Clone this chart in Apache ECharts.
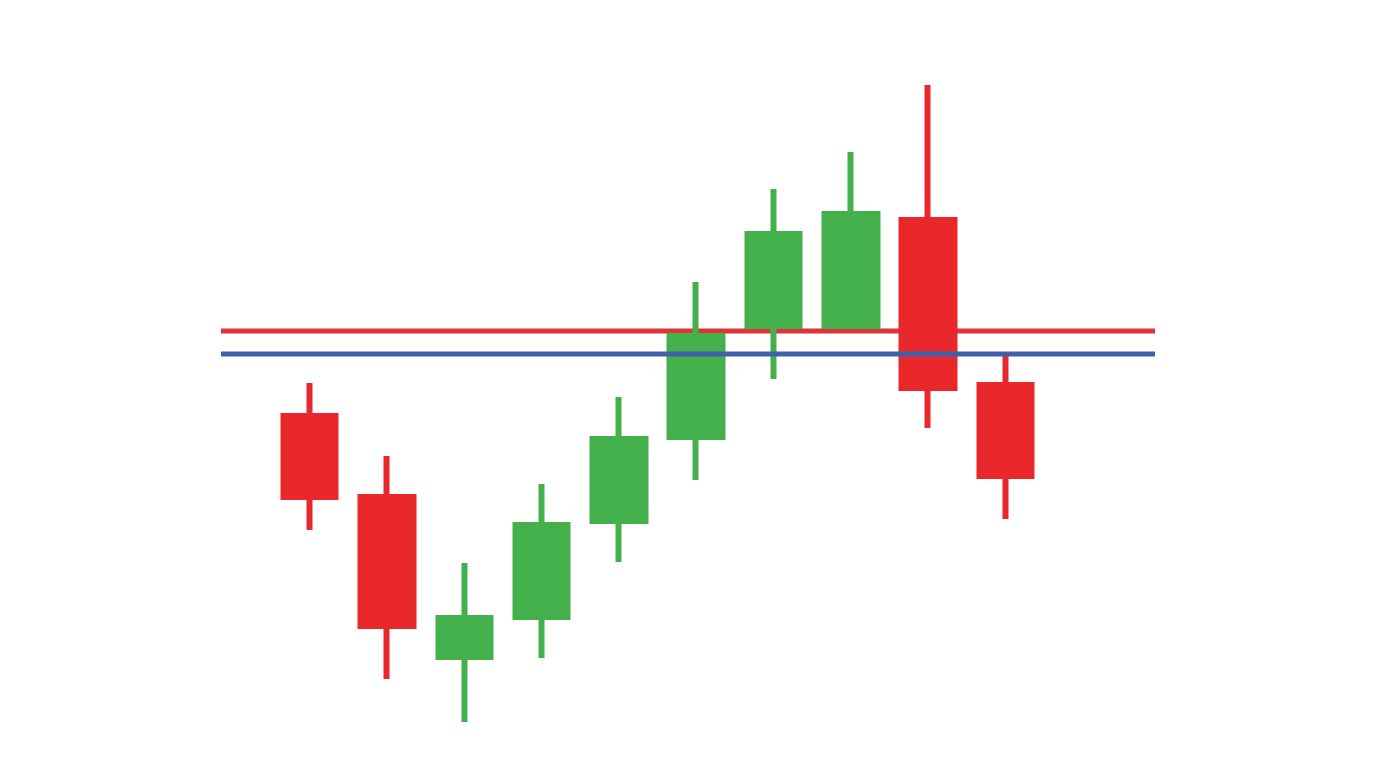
<!doctype html>
<html>
    <head>
        <meta charset="utf-8">
        <title>Candlestick - support and resistance</title>
        <style>
            html, body { margin: 0; padding: 0; background: #fff; }
            #main { width: 1376px; height: 768px; }
        </style>
    </head>
    <body>
        <div id="main"></div>
        <script src="https://cdn.jsdelivr.net/npm/echarts@6/dist/echarts.min.js"></script>
        <script>
            var categories = ['1', '2', '3', '4', '5', '6', '7', '8', '9', '10'];
            // body edges are read at the middle of the candle outline
            var opens  = [35.2, 27.1, 11.1, 15.1, 24.7, 33.1, 44.2, 44.2, 54.8, 38.3];
            var closes = [27.1, 14.2, 15.0, 24.3, 32.9, 43.2, 53.4, 55.4, 38.0, 29.2];
            var lows   = [23.8,  8.9,  4.6, 11.0, 20.6, 28.8, 38.9, 44.2, 34.0, 24.9];
            var highs  = [38.5, 31.2, 20.5, 28.4, 37.1, 48.6, 57.9, 61.6, 68.3, 41.5];
            var resistance = 43.7;
            var support = 41.4;

            var RED = '#e8282b';
            var GREEN = '#44b04c';

            var candles = categories.map(function (c, i) {
                return [opens[i], closes[i], lows[i], highs[i]];
            });

            var chart = echarts.init(document.getElementById('main'));

            var hiddenValueY = function (idx) {
                return {
                    type: 'value', gridIndex: idx, min: 0, max: 76.8,
                    show: false, splitLine: { show: false }
                };
            };

            chart.setOption({
                backgroundColor: '#fff',
                animation: false,
                grid: [
                    { left: 271, width: 773, top: 0, height: 768 },
                    { left: 221, width: 934, top: 0, height: 768 }
                ],
                xAxis: [
                    { type: 'category', data: categories, gridIndex: 0, show: false, boundaryGap: true },
                    { type: 'value', gridIndex: 1, min: 0, max: 1, show: false, splitLine: { show: false } }
                ],
                yAxis: [hiddenValueY(0), hiddenValueY(1)],
                series: [
                    {
                        name: 'resistance',
                        type: 'line',
                        xAxisIndex: 1,
                        yAxisIndex: 1,
                        z: 1,
                        symbol: 'none',
                        lineStyle: { color: '#e03338', width: 5 },
                        data: [[0, resistance], [1, resistance]]
                    },
                    {
                        name: 'price',
                        type: 'candlestick',
                        xAxisIndex: 0,
                        yAxisIndex: 0,
                        z: 2,
                        barWidth: 53,
                        itemStyle: {
                            color: GREEN,
                            color0: RED,
                            borderColor: GREEN,
                            borderColor0: RED,
                            borderWidth: 6
                        },
                        data: candles
                    },
                    {
                        name: 'support',
                        type: 'line',
                        xAxisIndex: 1,
                        yAxisIndex: 1,
                        z: 3,
                        symbol: 'none',
                        lineStyle: { color: '#4060aa', width: 5 },
                        data: [[0, support], [1, support]]
                    }
                ]
            });

            window.onresize = chart.resize;
        </script>
    </body>
</html>
